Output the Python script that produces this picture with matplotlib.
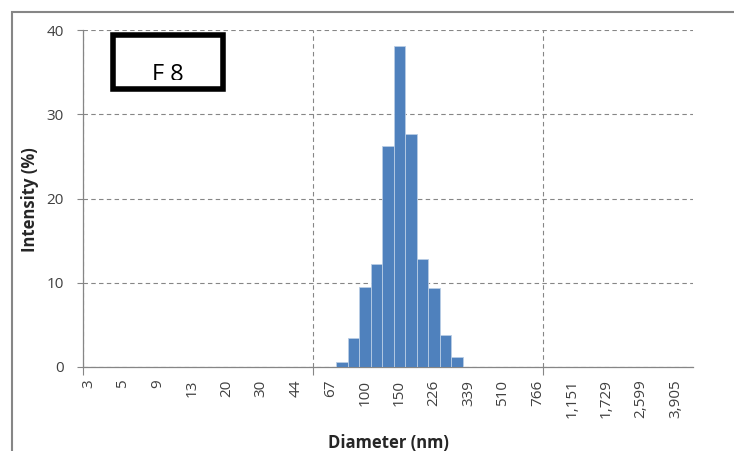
import matplotlib
matplotlib.use("Agg")
import matplotlib.pyplot as plt
from matplotlib.patches import Rectangle
from matplotlib.transforms import Bbox
import numpy as np

# ---- data ----
tick_labels = ['3', '5', '9', '13', '20', '30', '44', '67', '100', '150', '226',
               '339', '510', '766', '1,151', '1,729', '2,599', '3,905']
n_categories = 53          # size bins on the category axis
label_step = 3             # one label every 3 bins
grid_step = 20             # major tick / gridline every 20 bins
bar_start = 22             # first non-zero bin
intensity = [0.6, 3.5, 9.5, 12.2, 26.2, 38.1, 27.7, 12.8, 9.4, 3.8, 1.2]
y_ticks = [0, 10, 20, 30, 40]

W, H = 734, 451
plt.rcParams['font.family'] = ['Open Sans', 'DejaVu Sans']
fig = plt.figure(figsize=(W / 100, H / 100), dpi=100)

# chart-area border (extends past right/bottom edges)
fig.patches.append(Rectangle((12 / W, -0.1), 1.2, (H - 12) / H + 0.1,
                             transform=fig.transFigure, fill=False,
                             edgecolor='#868686', linewidth=1.5))

ax = fig.add_axes([82.7 / W, 84 / H, (693 - 82.7) / W, 337 / H])
gray = '#868686'
tick_color = '#404040'

x = np.arange(bar_start, bar_start + len(intensity))
ax.bar(x, intensity, width=1.0, color='#4F81BD', edgecolor='#B9CDE5',
       linewidth=0.6, zorder=3)

ax.set_xlim(-0.5, n_categories - 0.5)
ax.set_ylim(0, 40)

# y axis
ax.set_yticks(y_ticks)
ax.tick_params(axis='y', direction='out', length=4.5, width=0.8, color=gray,
               labelsize=11, pad=9, labelcolor=tick_color)
ax.yaxis.grid(True, linestyle=(0, (4, 3)), color=gray, linewidth=0.8)

# x axis: major ticks at bin boundaries every 20, labels every 3 bins (minor)
ax.set_xticks(np.arange(0, n_categories, grid_step) - 0.5)
ax.set_xticklabels([])
ax.tick_params(axis='x', which='major', direction='out', length=5.5,
               width=0.8, color=gray)
ax.set_xticks(np.arange(len(tick_labels)) * label_step, minor=True)
ax.set_xticklabels(tick_labels, minor=True, rotation=90, fontsize=11,
                   color=tick_color)
ax.tick_params(axis='x', which='minor', length=0, pad=9)
ax.xaxis.grid(True, which='major', linestyle=(0, (4, 3)), color=gray,
              linewidth=0.8)
ax.set_axisbelow(True)

for s in ['top', 'right']:
    ax.spines[s].set_visible(False)
for s in ['left', 'bottom']:
    ax.spines[s].set_color(gray)
    ax.spines[s].set_linewidth(0.9)

fig.text(30 / W, 1 - 200 / H, 'Intensity (%)', rotation=90, ha='center',
         va='center', fontsize=12, fontweight='bold', color='#262626')
fig.text(388 / W, 1 - 448 / H, 'Diameter (nm)', ha='center', va='baseline',
         fontsize=12, fontweight='bold', color='#262626')

# "F 8" box
fig.patches.append(Rectangle((113.3 / W, 1 - 88.7 / H), (222.7 - 113.3) / W,
                             (88.7 - 35.3) / H, transform=fig.transFigure,
                             fill=True, facecolor='white', edgecolor='black',
                             linewidth=4.0, zorder=5))
t = fig.text(168 / W, 1 - 81 / H, 'F 8', ha='center', va='baseline',
             fontsize=17, color='black', zorder=6)
t.set_clip_box(Bbox([[0, H - 79.5], [W, H]]))

fig.savefig('out.png', dpi=100)
